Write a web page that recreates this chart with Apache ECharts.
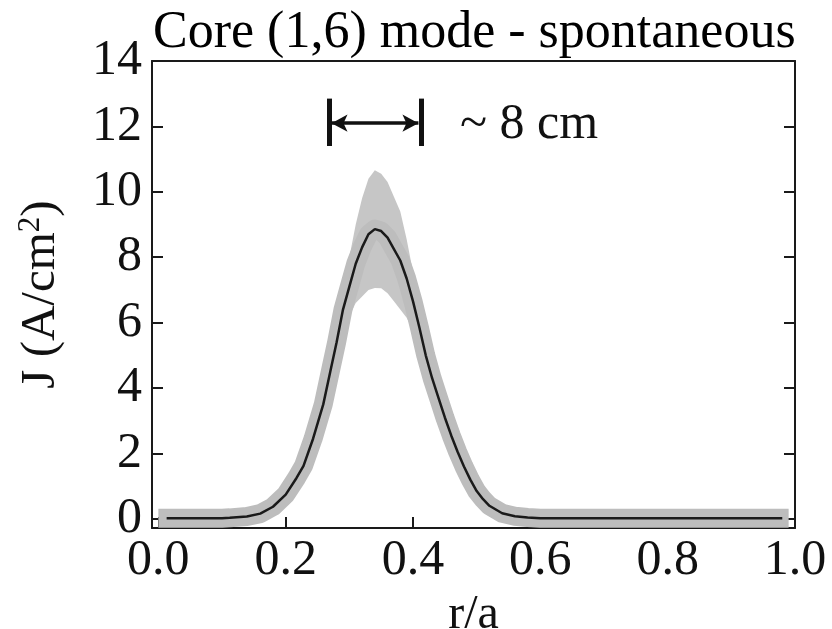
<!DOCTYPE html>
<html>
<head>
<meta charset="utf-8">
<script src="https://cdn.jsdelivr.net/npm/echarts@6/dist/echarts.min.js"></script>
<style>html,body{margin:0;padding:0;background:#fff}#c{width:832px;height:629px}</style>
</head>
<body>
<div id="c"></div>
<script>
// ---- data ----
const titleText = 'Core (1,6) mode - spontaneous';
const xTicks = [0, 0.2, 0.4, 0.6, 0.8, 1.0];
const yTicks = [0, 2, 4, 6, 8, 10, 12, 14];
const r = [0.0, 0.013, 0.05, 0.1, 0.112, 0.139, 0.16, 0.18, 0.2, 0.217, 0.228, 0.243, 0.259,
  0.27, 0.28, 0.29, 0.30, 0.31, 0.32, 0.33, 0.34, 0.35, 0.36, 0.37, 0.38, 0.39, 0.40, 0.41,
  0.42, 0.43, 0.44, 0.45, 0.46, 0.47, 0.48, 0.49, 0.50, 0.51, 0.52, 0.54, 0.56, 0.58, 0.60,
  0.70, 0.80, 0.90, 0.98, 0.99];
const J = [0.02, 0.02, 0.02, 0.02, 0.03, 0.07, 0.16, 0.37, 0.74, 1.25, 1.62, 2.45, 3.5,
  4.5, 5.4, 6.4, 7.1, 7.8, 8.3, 8.7, 8.86, 8.8, 8.6, 8.25, 7.9, 7.35, 6.65, 5.85,
  5.0, 4.3, 3.7, 3.1, 2.55, 2.05, 1.6, 1.2, 0.85, 0.6, 0.4, 0.17, 0.08, 0.04, 0.02,
  0.02, 0.02, 0.02, 0.02, 0.02];
const Jerr = [0, 0, 0, 0, 0, 0, 0.05, 0.1, 0.15, 0.2, 0.25, 0.3, 0.35,
  0.4, 0.5, 0.7, 0.9, 1.2, 1.5, 1.7, 1.8, 1.75, 1.7, 1.6, 1.5, 1.2, 0.9, 0.7,
  0.5, 0.4, 0.35, 0.3, 0.25, 0.2, 0.15, 0.1, 0.08, 0.05, 0.03, 0, 0, 0, 0,
  0, 0, 0, 0, 0];
// width annotation (~8 cm)
const spanStart = 0.268, spanEnd = 0.4125, spanY = 12.1, spanBarLow = 11.4, spanBarHigh = 12.85;
const spanText = '~ 8 cm';

const FONT = "'Liberation Serif', 'Times New Roman', serif";
const meanPts = r.map((x, i) => [x, J[i]]);
const blackPts = meanPts.slice(1, meanPts.length - 1);

const chart = echarts.init(document.getElementById('c'), null, {renderer: 'canvas'});
const axisLine = {show: true, onZero: false, lineStyle: {color: '#1a1a1a', width: 2}};
const tickStyle = {color: '#1a1a1a', width: 2};

chart.setOption({
  animation: false,
  backgroundColor: '#fff',
  title: {
    text: titleText, left: 148, top: 2,
    textStyle: {fontFamily: FONT, fontSize: 52, fontWeight: 'normal', color: '#000'}
  },
  grid: {left: 152, right: 37, top: 61, bottom: 101, containLabel: false, outerBoundsMode: 'none'},
  xAxis: [{
    type: 'value', min: -0.01, max: 1.0, position: 'bottom',
    axisLine: axisLine,
    axisTick: {show: true, inside: true, length: 11, lineStyle: tickStyle, customValues: xTicks},
    axisLabel: {customValues: xTicks, formatter: v => v.toFixed(1), fontFamily: FONT, fontSize: 50, color: '#111', margin: 8},
    splitLine: {show: false},
    name: 'r/a', nameLocation: 'middle', nameGap: 46,
    nameTextStyle: {fontFamily: FONT, fontSize: 48, color: '#111'}
  }, {
    type: 'value', min: -0.01, max: 1.0, position: 'top',
    axisLine: axisLine, axisTick: {show: false}, axisLabel: {show: false}, splitLine: {show: false}
  }],
  yAxis: [{
    type: 'value', min: -0.28, max: 14, position: 'left',
    axisLine: axisLine,
    axisTick: {show: true, inside: true, length: 11, lineStyle: tickStyle, customValues: yTicks},
    axisLabel: {customValues: yTicks, fontFamily: FONT, fontSize: 50, color: '#111', margin: 10},
    splitLine: {show: false},
    name: '{a|J (A/cm}{s|2}{a|)}', nameLocation: 'middle', nameGap: 84, nameRotate: 90,
    nameTextStyle: {
      rich: {
        a: {fontFamily: FONT, fontSize: 49, color: '#111'},
        s: {fontFamily: FONT, fontSize: 31, color: '#111', padding: [0, 0, 22, 0]}
      }
    }
  }, {
    type: 'value', min: -0.28, max: 14, position: 'right',
    axisLine: axisLine,
    axisTick: {show: true, inside: true, length: 11, lineStyle: tickStyle, customValues: yTicks},
    axisLabel: {show: false}, splitLine: {show: false}
  }],
  series: [{
    type: 'custom', name: 'error band', clip: true, silent: true, z: 2,
    data: meanPts,
    renderItem: function (params, api) {
      if (params.dataIndex !== 0) return null;
      const pts = [];
      for (let i = 0; i < r.length; i++) pts.push(api.coord([r[i], J[i] + Jerr[i]]));
      for (let i = r.length - 1; i >= 0; i--) pts.push(api.coord([r[i], J[i] - Jerr[i]]));
      return {type: 'polygon', shape: {points: pts}, style: {fill: '#c6c6c6'}};
    }
  }, {
    type: 'line', name: 'band', data: meanPts, symbol: 'none', clip: true, z: 3,
    lineStyle: {color: '#bdbdbd', width: 19, cap: 'butt', join: 'round'}
  }, {
    type: 'line', name: 'J', data: blackPts, symbol: 'none', clip: true, z: 4,
    lineStyle: {color: '#1a1a1a', width: 2.5},
    markLine: {
      silent: true, animation: false, symbol: 'none',
      label: {show: false},
      data: [
        [{coord: [spanStart, spanBarLow], symbol: 'none', lineStyle: {width: 5, color: '#111', type: 'solid'}},
         {coord: [spanStart, spanBarHigh], symbol: 'none'}],
        [{coord: [spanEnd, spanBarLow], symbol: 'none', lineStyle: {width: 5, color: '#111', type: 'solid'}},
         {coord: [spanEnd, spanBarHigh], symbol: 'none'}],
        [{coord: [spanStart + 0.004, spanY], symbol: 'arrow', symbolSize: [13, 16], lineStyle: {width: 3.5, color: '#111', type: 'solid'}},
         {coord: [spanEnd - 0.004, spanY], symbol: 'arrow', symbolSize: [13, 16]}]
      ]
    }
  }],
  graphic: [{
    type: 'text', left: 460, top: 100, z: 10,
    style: {text: spanText, fontFamily: FONT, fontSize: 50, fill: '#111'}
  }]
});
</script>
</body>
</html>
